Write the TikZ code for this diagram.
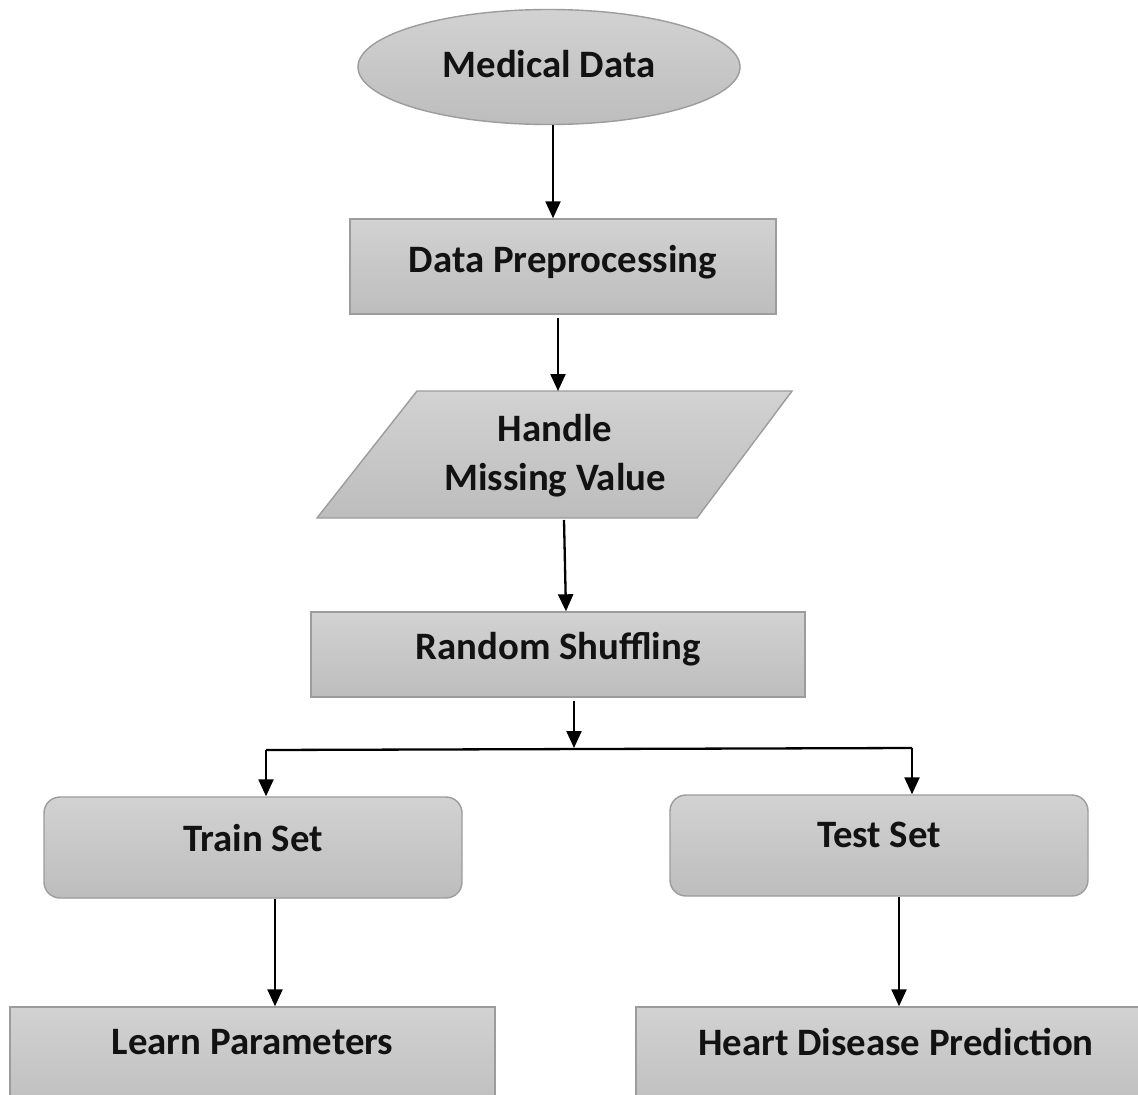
\documentclass[tikz,border=0pt]{standalone}
\usepackage{fontspec}
\setmainfont{Carlito}
\usetikzlibrary{shapes.geometric,arrows.meta,calc}
\definecolor{boxtop}{HTML}{D2D2D2}
\definecolor{boxbot}{HTML}{BDBDBD}
\definecolor{boxline}{HTML}{9C9C9C}
\definecolor{txt}{HTML}{121212}
\tikzset{
  shapebox/.style={draw=boxline, line width=1.4pt, top color=boxtop, bottom color=boxbot,
    inner sep=0pt, align=center, text=txt,
    font=\fontsize{38.8}{49}\selectfont\bfseries},
  plainbox/.style={shapebox, rectangle},
  roundbox/.style={shapebox, rectangle, rounded corners=16pt},
  textonly/.style={inner sep=0pt, align=center, text=txt,
    font=\fontsize{38.8}{49}\selectfont\bfseries},
  flow/.style={line width=2.3pt, black, -{Triangle[width=15pt,length=17pt]}},
  link/.style={line width=2.3pt, black}
}
\begin{document}
\begin{tikzpicture}[x=1pt,y=-1pt]
\useasboundingbox (0,0) rectangle (1138,1095);
\clip (0,0) rectangle (1138,1095);
\fill[white] (0,0) rectangle (1138,1095);

% nodes
\node[shapebox, ellipse, minimum width=382pt, minimum height=115pt, text depth=6pt] (md) at (549,67) {Medical Data};
\node[plainbox, minimum width=426pt, minimum height=95pt, text depth=16pt] (dp) at (563,266.5) {Data Preprocessing};
\path[draw=boxline, line width=1.4pt, top color=boxtop, bottom color=boxbot]
  (417,391) -- (792,391) -- (697,518) -- (317,518) -- cycle;
\node[textonly, minimum width=380pt, minimum height=127pt] (hmv) at (555,456) {Handle\\Missing Value};
\node[plainbox, minimum width=494pt, minimum height=85pt, text depth=17pt] (rs) at (558,654.5) {Random Shuffling};
\node[roundbox, minimum width=418pt, minimum height=101pt, text depth=20pt] (train) at (253,847.5) {Train Set};
\node[roundbox, minimum width=418pt, minimum height=101pt, text depth=22pt] (test) at (879,845.5) {Test Set};
\node[plainbox, minimum width=485pt, minimum height=110pt, text depth=40pt] (lp) at (252.5,1062) {Learn Parameters};
\node[plainbox, minimum width=520pt, minimum height=110pt, text depth=40pt] (hdp) at (896,1062) {Heart Disease Prediction};

% split coordinates
\coordinate (split) at (574,748);
\coordinate (sl) at (266,750);
\coordinate (sr) at (912,748);

% connectors
\draw[flow] (553,125) -- (dp.north -| 553,0);
\draw[flow] (558,318) -- (558,391);
\draw[flow] (564,520) -- (rs.north -| 566,0);
\draw[flow] (574,701) -- (split);
\draw[link] (sl) -- (sr);
\draw[flow] (sl) -- (train.north -| sl);
\draw[flow] (sr) -- (test.north -| sr);
\draw[flow] (275,899) -- (lp.north -| 275,0);
\draw[flow] (899,897) -- (hdp.north -| 899,0);
\end{tikzpicture}
\end{document}
